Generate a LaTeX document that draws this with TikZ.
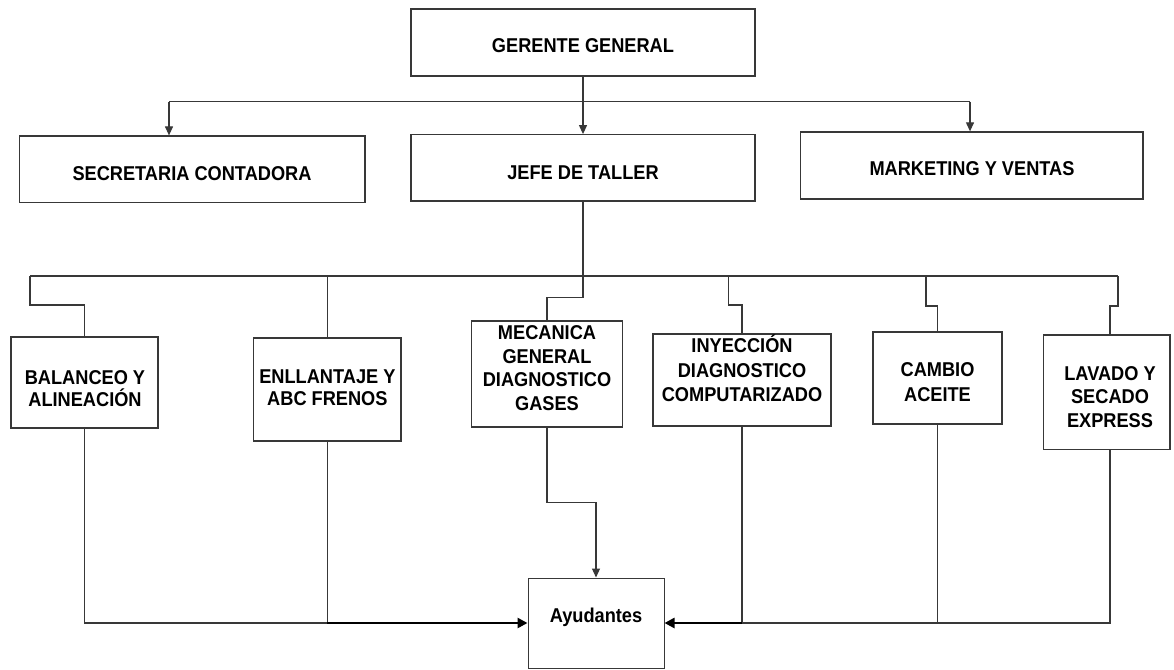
\documentclass[tikz,border=0pt]{standalone}
\usepackage{fontspec}
\setmainfont{Liberation Sans}[FakeStretch=0.91]
\usetikzlibrary{arrows.meta,calc}
\definecolor{ln}{HTML}{383838}
\tikzset{
  orgbox/.style={draw=ln, line width=1.3pt, fill=white, inner sep=0pt},
  txt/.style={align=center, inner sep=0pt, font=\bfseries\fontsize{20}{23.5}\selectfont},
  txtb/.style={align=center, inner sep=0pt, font=\bfseries\fontsize{20}{21.7}\selectfont},
  conn/.style={draw=ln, line width=1.1pt},
  arr/.style={-{Triangle[length=9pt,width=8pt]}},
  thickarr/.style={draw=black, line width=2.6pt, -{Triangle[length=10pt,width=10pt]}}
}
\begin{document}
\begin{tikzpicture}[x=1pt,y=-1pt]
\useasboundingbox[fill=white] (0,0) rectangle (1174,669);
% boxes
\node[orgbox, minimum width=344pt, minimum height=67pt] (gg) at (583,42.5) {};
\node[orgbox, minimum width=344pt, minimum height=66.3pt] (jefe) at (583,167.9) {};
\node[orgbox, minimum width=345.7pt, minimum height=66.7pt] (sec) at (192.2,169.4) {};
\node[orgbox, minimum width=342.3pt, minimum height=67pt] (mkt) at (971.9,165.5) {};
\node[orgbox, minimum width=147pt, minimum height=91pt] (bal) at (84.5,382.5) {};
\node[orgbox, minimum width=147.3pt, minimum height=103pt] (enl) at (327.4,389.5) {};
\node[orgbox, minimum width=151pt, minimum height=106pt] (mec) at (547,374) {};
\node[orgbox, minimum width=178pt, minimum height=92pt] (iny) at (742,380) {};
\node[orgbox, minimum width=129pt, minimum height=92pt] (cam) at (937.5,378) {};
\node[orgbox, minimum width=126.5pt, minimum height=114.5pt] (lav) at (1106.75,392.25) {};
\node[orgbox, line width=1pt, minimum width=136pt, minimum height=90pt] (ayu) at (596,623) {};
% texts
\node[txt] (ggT) at (583,46) {GERENTE GENERAL};
\node[txt] (jefeT) at (583,173) {JEFE DE TALLER};
\node[txt] (secT) at (192,174) {SECRETARIA CONTADORA};
\node[txt] (mktT) at (972,169) {MARKETING Y VENTAS};
\node[txtb] (balT) at (85,388.5) {BALANCEO Y\\ALINEACIÓN};
\node[txtb] (enlT) at (327.4,388) {ENLLANTAJE Y\\ABC FRENOS};
\node[txt] (mecT) at (547,368) {MECANICA\\GENERAL\\DIAGNOSTICO\\GASES};
\node[txt, font=\bfseries\fontsize{20}{24.5}\selectfont] (inyT) at (742,368.5) {INYECCIÓN\\DIAGNOSTICO\\COMPUTARIZADO};
\node[txt, font=\bfseries\fontsize{20}{24.4}\selectfont] (camT) at (937.5,382) {CAMBIO\\ACEITE};
\node[txt] (lavT) at (1110,397) {LAVADO Y\\SECADO\\EXPRESS};
\node[txt] (ayuT) at (596,617) {Ayudantes};
% top connectors
\coordinate (hl) at (169,101.7);
\coordinate (hr) at (970,101.7);
\draw[conn,arr] (gg.south) -- (jefe.north);
\draw[conn] (hl) -- (hr);
\draw[conn,arr] (hl) -- (hl |- sec.north);
\draw[conn,arr] (hr) -- (hr |- mkt.north);
% tree
\coordinate (tl) at (30,276);
\coordinate (tr) at (1118,276);
\coordinate (ti) at (728.5,276);
\coordinate (tc) at (926,276);
\coordinate (lavtop) at ([xshift=3.25pt]lav.north);
\coordinate (lavbot) at ([xshift=3.25pt]lav.south);
\draw[conn] (tl) -- (tr);
\draw[conn] (jefe.south) -- ++(0,96) -| (mec.north);
\draw[conn] (tl) -- ++(0,29) -| (bal.north);
\draw[conn] (enl.north |- tl) -- (enl.north);
\draw[conn] (ti) -- ++(0,29) -| (iny.north);
\draw[conn] (tc) -- ++(0,30) -| (cam.north);
\draw[conn] (tr) -- ++(0,30) -| (lavtop);
% bottom connectors
\coordinate (jl) at (enl.south |- ayu.west);
\coordinate (jr) at (iny.south |- ayu.east);
\draw[conn] (bal.south) |- (jl);
\draw[conn] (enl.south) -- (jl);
\draw[thickarr] (jl) -- (ayu.west);
\draw[conn,arr] (mec.south) -- ++(0,75) -| (ayu.north);
\draw[conn] (iny.south) -- (jr);
\draw[conn] (cam.south) -- (cam.south |- ayu.east);
\draw[conn] (lavbot) |- (jr);
\draw[thickarr] (jr) -- (ayu.east);
\end{tikzpicture}
\end{document}
